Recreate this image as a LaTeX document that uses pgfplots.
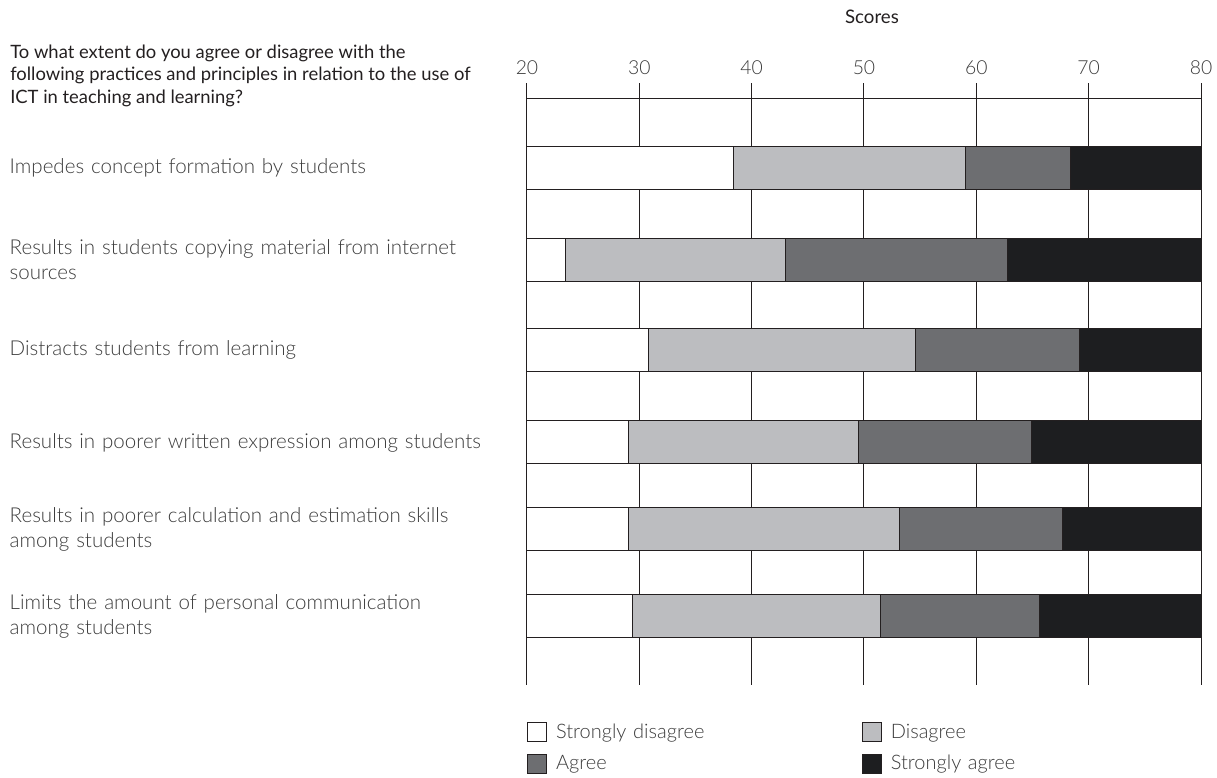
\documentclass[border=0pt]{standalone}
\usepackage{fontspec}
\setmainfont{Lato}
\IfFontExistsTF{Lato Light}{\newfontfamily\lt{Lato Light}}{\newfontfamily\lt{Lato}}
\usepackage{pgfplots}
\usepackage{pgfplotstable}
\pgfplotsset{compat=1.18}
\definecolor{dis}{HTML}{BCBDC0}
\definecolor{agr}{HTML}{6D6E71}
\definecolor{sag}{HTML}{1D1E20}
\definecolor{ln}{HTML}{231F20}
\definecolor{txt}{HTML}{3C3C3C}
\pgfplotstableread{
y    b  sd   d    a     sa
0    20 18.4 20.6 9.4   11.6
1.02 20 3.4  19.6 19.8  17.2
2.03 20 10.8 23.8 14.6  10.8
3.06 20 9.0  20.5 15.4  15.1
4.03 20 9.0  24.2 14.5  12.3
5.0  20 9.4  22.1 14.15 14.35
}\data
\begin{document}
\begin{tikzpicture}
\begin{axis}[
  scale only axis, width=505.5pt, height=451.5pt,
  xmin=20, xmax=80, ymin=-0.948, ymax=5.764, y dir=reverse,
  xbar stacked, bar width=32.25pt,
  xtick={20,30,...,80}, xticklabel pos=upper,
  xticklabel style={font=\lt\fontsize{14.5}{16}\selectfont, text=txt, yshift=3pt},
  /pgf/number format/assume math mode=true,
  ytick={0,1.02,2.03,3.06,4.03,5.0},
  yticklabels={{Impedes concept formation by students},
    {Results in students copying material from internet\\sources},
    {Distracts students from learning},
    {Results in poorer written expression among students},
    {Results in poorer calculation and estimation skills\\among students},
    {Limits the amount of personal communication\\among students}},
  yticklabel style={text width=387.75pt, align=left, inner sep=0pt,
    font=\lt\fontsize{15.4}{18.5}\selectfont, text=txt},
  axis line style={draw=none}, major tick length=0pt,
  xmajorgrids, grid style={draw=ln, line width=0.75pt},
  clip=false,
  legend columns=2,
  legend style={draw=none, at={(0,-0.06)}, anchor=north west, inner sep=0pt,
    font=\lt\fontsize{15}{17}\selectfont, text=txt, row sep=7pt,
    nodes={text width=120pt, inner xsep=0pt, align=left},
    /tikz/every odd column/.append style={column sep=6.75pt},
    /tikz/every even column/.append style={column sep=109.5pt}},
  legend image code/.code={\draw[#1, draw=ln, line width=0.6pt] (0pt,-7.1pt) rectangle (14.25pt,7.1pt);},
]
\addplot[draw=none, fill=none, forget plot] table[x=b, y=y] {\data};
\addplot[fill=white, draw=ln, line width=0.75pt] table[x=sd, y=y] {\data};
\addlegendentry{Strongly disagree}
\addplot[fill=dis, draw=ln, line width=0.75pt] table[x=d, y=y] {\data};
\addlegendentry{Disagree}
\addplot[fill=agr, draw=ln, line width=0.75pt] table[x=a, y=y] {\data};
\addlegendentry{Agree}
\addplot[fill=sag, draw=ln, line width=0.75pt] table[x=sa, y=y] {\data};
\addlegendentry{Strongly agree}
\draw[ln, line width=0.75pt] (axis cs:20,-0.78) -- (axis cs:80,-0.78);
\end{axis}
\node[font=\fontsize{14}{16}\selectfont, text=ln] at ([xshift=6pt,yshift=50pt]current axis.north) {Scores};
\node[anchor=north west, align=left, inner sep=0pt, font=\fontsize{13.8}{17}\selectfont, text=ln]
  at ([xshift=-387.75pt,yshift=29pt]current axis.north west)
  {To what extent do you agree or disagree with the\\following practices and principles in relation to the use of\\ICT in teaching and learning?};
\path ([xshift=-395.25pt,yshift=62.25pt]current axis.north west) rectangle ([xshift=12pt,yshift=-69.75pt]current axis.south east);
\end{tikzpicture}
\end{document}
